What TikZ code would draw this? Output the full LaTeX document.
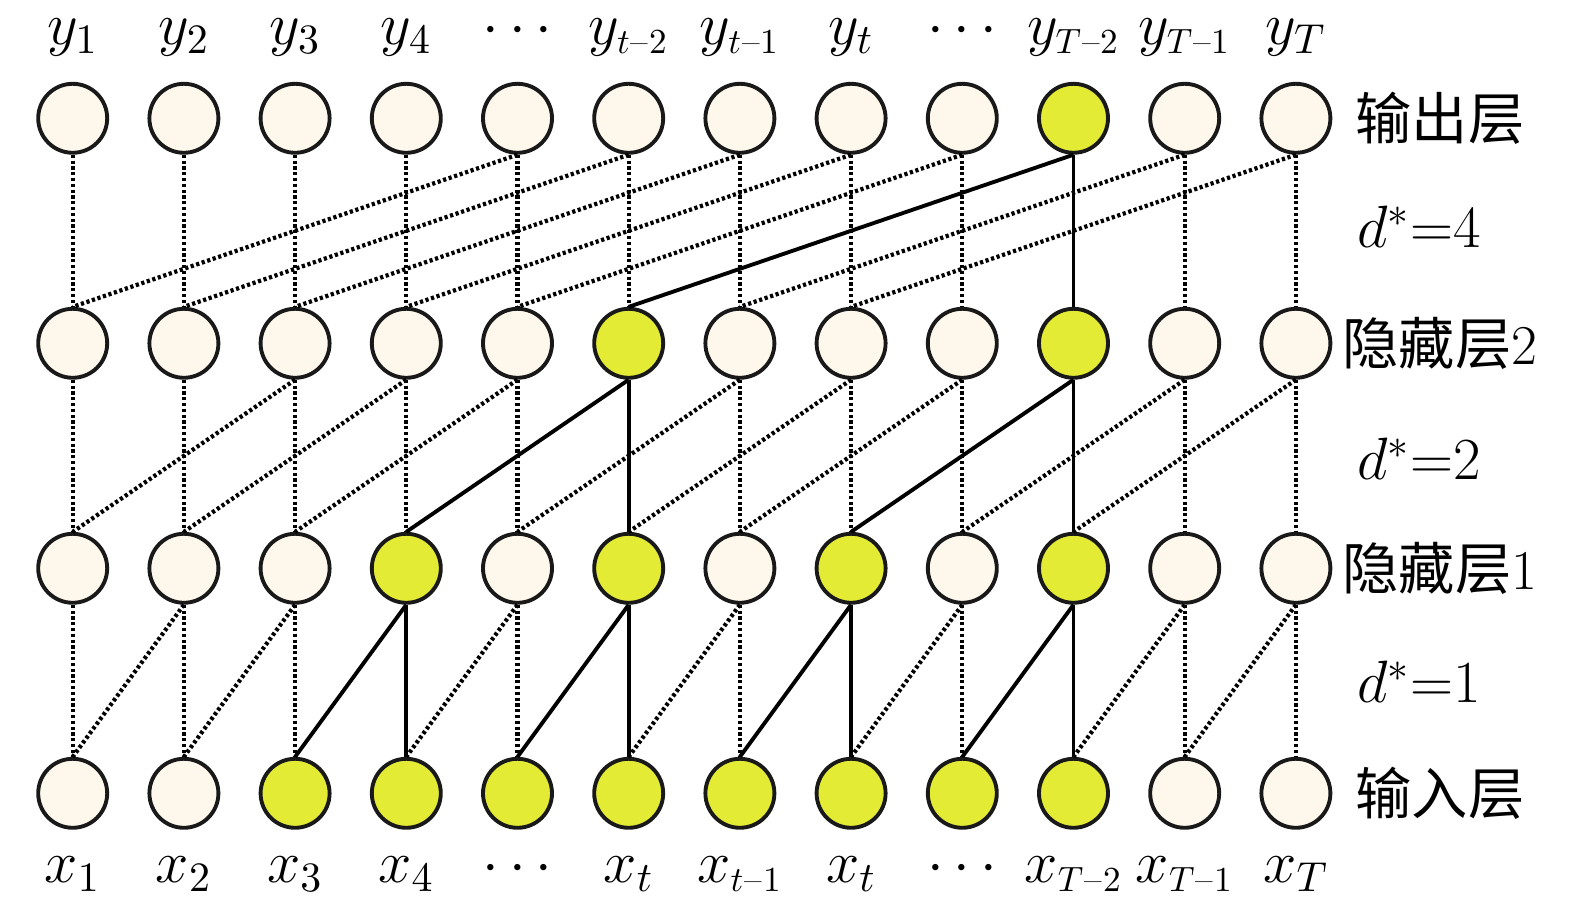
\RequirePackage{fix-cm}
\documentclass[tikz,border=0pt]{standalone}
\usepackage{fontspec}
\newfontfamily\cjk{Noto Sans CJK SC}
\usepackage{tikz}
\usetikzlibrary{positioning}
\definecolor{cellcream}{HTML}{FEF8EC}
\definecolor{cellgreen}{HTML}{E4EB35}
% shifted-step subscript, e.g. t-2
\newcommand{\lagsub}[2]{_{\mbox{\fontsize{10}{11}\selectfont$#1$\kern0.3pt–\kern0.3pt#2}}}

\begin{document}
\begin{tikzpicture}[
        neuron/.style={circle, draw=black!90, line width=1.1pt, fill=cellcream,
                       minimum size=0.69cm, inner sep=0pt},
        active/.style={neuron, fill=cellgreen},
        dotlink/.style={line width=1.2pt, dash pattern=on 0.032cm off 0.026cm},
        solidlink/.style={line width=1.1pt},
        lab/.style={anchor=base, font=\fontsize{17}{20}\selectfont},
        layer/.style={font=\fontsize{16}{20}\selectfont},
    ]
        \useasboundingbox (0,0) rectangle (15.75,9.12);

        % neurons, one row per layer
        \foreach \i/\s in {1/neuron,2/neuron,3/neuron,4/neuron,5/neuron,6/neuron,
                           7/neuron,8/neuron,9/neuron,10/active,11/neuron,12/neuron}
            \node[\s] (out\i) at ({0.727+1.112*(\i-1)},7.937) {};
        \foreach \i/\s in {1/neuron,2/neuron,3/neuron,4/neuron,5/neuron,6/active,
                           7/neuron,8/neuron,9/neuron,10/active,11/neuron,12/neuron}
            \node[\s] (hidB\i) at ({0.727+1.112*(\i-1)},5.687) {};
        \foreach \i/\s in {1/neuron,2/neuron,3/neuron,4/active,5/neuron,6/active,
                           7/neuron,8/active,9/neuron,10/active,11/neuron,12/neuron}
            \node[\s] (hidA\i) at ({0.727+1.112*(\i-1)},3.437) {};
        \foreach \i/\s in {1/neuron,2/neuron,3/active,4/active,5/active,6/active,
                           7/active,8/active,9/active,10/active,11/neuron,12/neuron}
            \node[\s] (in\i) at ({0.727+1.112*(\i-1)},1.187) {};

        % input -> hidden 1, d*=1
        \foreach \i in {1,2,3,5,7,9,11,12}
            \draw[dotlink] (hidA\i.south) -- (in\i.north);
        \foreach \i/\j in {2/1,3/2,5/4,7/6,9/8,11/10,12/11}
            \draw[dotlink] (hidA\i.south) -- (in\j.north);
        \foreach \i/\j in {4/3,6/5,8/7,10/9} {
            \draw[solidlink] (hidA\i.south) -- (in\j.north);
            \draw[solidlink] (hidA\i.south) -- (in\i.north);
        }

        % hidden 1 -> hidden 2, d*=2
        \foreach \i in {1,2,3,4,5,7,8,9,11,12}
            \draw[dotlink] (hidB\i.south) -- (hidA\i.north);
        \foreach \i/\j in {3/1,4/2,5/3,7/5,8/6,9/7,11/9,12/10}
            \draw[dotlink] (hidB\i.south) -- (hidA\j.north);
        \foreach \i/\j in {6/4,10/8} {
            \draw[solidlink] (hidB\i.south) -- (hidA\j.north);
            \draw[solidlink] (hidB\i.south) -- (hidA\i.north);
        }

        % hidden 2 -> output, d*=4
        \foreach \i in {1,2,3,4,5,6,7,8,9,11,12}
            \draw[dotlink] (out\i.south) -- (hidB\i.north);
        \foreach \i/\j in {5/1,6/2,7/3,8/4,9/5,11/7,12/8}
            \draw[dotlink] (out\i.south) -- (hidB\j.north);
        \draw[solidlink] (out10.south) -- (hidB6.north);
        \draw[solidlink] (out10.south) -- (hidB10.north);

        % sequence labels
        \foreach \i/\t in {1/y_1,2/y_2,3/y_3,4/y_4,5/\cdots,6/y\lagsub{t}{2},
                           7/y\lagsub{t}{1},8/y_t,9/\cdots,10/y\lagsub{T}{2},
                           11/y\lagsub{T}{1},12/y_T}
            \node[lab] (ylab\i) at ({0.727+1.112*(\i-1)},8.67) {$\t$};
        \foreach \i/\t in {1/x_1,2/x_2,3/x_3,4/x_4,5/\cdots,6/x_t,7/x\lagsub{t}{1},
                           8/x_t,9/\cdots,10/x\lagsub{T}{2},11/x\lagsub{T}{1},12/x_T}
            \node[lab] (xlab\i) at ({0.727+1.112*(\i-1)},0.29) {$\t$};

        % layer names and dilations
        \node[layer] (nout) at (14.40,7.937) {\cjk 输出层};
        \node[layer] (nhidB) at (14.40,5.687) {{\cjk 隐藏层}2};
        \node[layer] (nhidA) at (14.40,3.437) {{\cjk 隐藏层}1};
        \node[layer] (nin) at (14.40,1.187) {\cjk 输入层};
        \node[lab] (dfour) at (14.19,6.64) {$d^{*}{=}4$};
        \node[lab] (dtwo) at (14.19,4.32) {$d^{*}{=}2$};
        \node[lab] (done) at (14.19,2.09) {$d^{*}{=}1$};
    \end{tikzpicture}
\end{document}
